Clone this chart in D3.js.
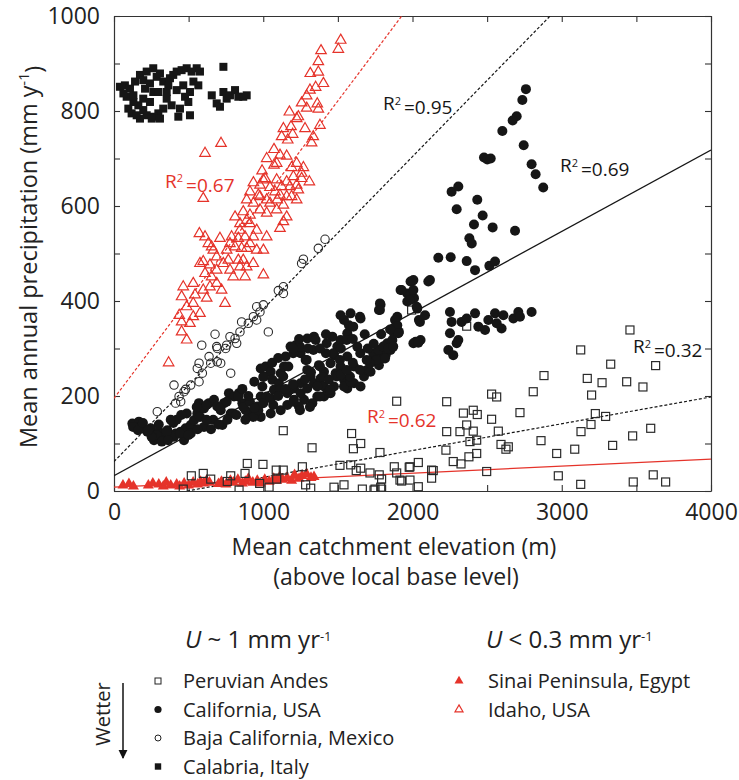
<!DOCTYPE html>
<html><head><meta charset="utf-8">
<script src="https://cdn.jsdelivr.net/npm/d3@7"></script>
<style>body{margin:0;background:#fff} text{font-family:"Open Sans",sans-serif;fill:#222}</style>
</head><body><svg id="c" width="739" height="780"></svg>
<script>
const xTicks=[0,1000,2000,3000,4000];
const yTicks=[0,200,400,600,800,1000];

const peru=[[3457,339],[3127,297],[3328,267],[3629,264],[2881,243],[3171,237],[3270,228],[3435,230],[3544,219],[3200,202],[2809,209],[2530,204],[2564,198],[2229,188],[2720,165],[2341,164],[2407,170],[2434,161],[3225,163],[3294,157],[2363,139],[2530,151],[2229,125],[2318,125],[2407,126],[2575,126],[3196,140],[3129,125],[3596,132],[3475,116],[2385,104],[2430,107],[2593,98],[2642,93],[2626,88],[2861,106],[3087,88],[3341,96],[2224,86],[2966,79],[2430,79],[2378,72],[2273,62],[2325,57],[2039,60],[1983,51],[2139,43],[2497,41],[2128,27],[1983,23],[1927,21],[2039,9],[2977,32],[3127,14],[3479,19],[3613,34],[3696,19],
[1994,381],[2363,347],[1894,189],[1782,81],[1878,51],[1894,38],[1978,50],[1916,23],[1749,4],[1793,4],[1793,25],[1715,38],[1777,34],[2128,44],
[1134,127],[1592,121],[1653,100],[1604,89],[1327,91],[893,58],[998,56],[598,37],[782,32],[878,37],[1087,44],[1134,44],[1262,51],[1514,54],[1586,55],[1623,43],[1653,48],
[648,25],[759,20],[838,2],[976,16],[1039,8],[1090,25],[1284,13],[1318,6],[1474,8],[1541,13],[1664,4],[1742,2],[1787,8],[518,32],[464,4]];

const california=[[123,142],[167,146],[179,135],[246,132],[257,121],[357,128],[368,114],[413,121],[447,125],[480,132],[514,139],[536,149],[558,163],[569,185],[603,174],[636,185],[670,192],[692,178],[715,170],[737,185],[770,206],[804,199],[837,206],[860,185],[882,170],[904,163],[938,163],[960,178],[983,199],[994,220],[1005,241],[983,258],[1016,262],[1050,251],[1061,234],[1072,213],[1105,227],[1117,248],[1139,262],[1150,283],[1183,304],[1217,307],[1250,290],[1284,276],[1295,255],[1317,241],[1340,227],[1384,237],[1407,220],[1429,206],[1362,199],[1329,185],[1273,192],[1239,178],[1161,206],[1206,216],[1250,227],[1451,269],[1474,286],[1496,304],[1518,318],[1563,332],[1574,349],[1541,360],[1518,370],[1585,374],[1652,363],[1340,325],[1295,321],[1351,318],[1463,325],[1373,265],[1407,251],[1485,248],[1541,234],[1563,216],[1608,227],[1652,220],[1675,241],[1697,255],[1731,272],[1764,283],[1786,297],[1809,304],[1831,311],[1865,318],[1876,332],[1853,297],[1820,286],[1775,265],[1719,251],[1630,304],[1563,283],[1518,262],[1608,262],[1898,349],[1909,335],[1920,423],[1965,416],[1987,441],[2010,406],[1965,399],[2032,384],[2043,360],[2054,318],[2021,314],[1786,392],[1775,381],[1898,367],[782,163],[726,139],[603,135],[514,121],[469,107],[402,114],[335,111],[268,107],[301,125],[223,125],[983,156],[1050,163],[1117,170],[1161,181],[1206,192],[1250,206],[1295,216],[1362,220],[1407,199],[1451,206],[1474,220],[1541,220],[1585,230],
[1782,395],[1782,381],[1883,360],[1894,346],[1905,332],[1927,423],[1983,402],[1994,441],[2006,423],[2028,388],[2050,356],[2084,370],[2106,441],[2117,444],[2006,311],[2039,312],[2251,377],[2262,356],[2329,356],[2363,363],[2419,374],[2441,346],[2486,339],[2508,360],[2553,374],[2564,353],[2597,342],[2609,370],[2676,363],[2709,377],[2720,367],[2798,377],[2251,332],[2240,297],[2273,286],[2307,318],[2296,311],[1737,290],[1771,297],[1804,304],[1838,300],[1871,304],[1760,276],[1816,279],[1715,269],
[2760,846],[2736,823],[2698,789],[2671,780],[2602,758],[2745,728],[2479,702],[2501,698],[2524,700],[2798,688],[2825,667],[2876,639],[2262,630],[2307,641],[2434,613],[2296,593],[2470,580],[2412,561],[2537,555],[2687,548],[2381,532],[2397,521],[2173,491],[2256,492],[2363,484],[2419,465],[2515,474],[2553,483],[2006,444],
[487,163],[554,177],[576,156],[621,181],[665,150],[710,174],[755,188],[799,163],[833,199],[866,177],[911,188],[933,156],[967,170],[1023,199],[1067,181],[1112,213],[1134,241],[1168,262],[1201,290],[1246,304],[1291,276],[1336,297],[1380,262],[1425,311],[1469,290],[1514,276],[1559,318],[1603,346],[1648,367],[1693,276],[1492,241],[1447,213],[1380,199],[1313,177],[1246,170],[1201,188],[1179,213],[1581,241],[1648,255],[353,125],[397,143],[442,121],[286,118],[320,104],[128,135],[161,128],[194,143],[252,114],[228,128],[362,107],
[420,150],[500,118],[560,130],[620,150],[650,130],[700,140],[760,150],[820,160],[880,150],[940,175],[1000,185],[1050,195],[1100,200],[1150,215],[1200,225],[1280,235],[1320,250],[1400,240],[1440,235],[1520,245],[1560,255],[1600,270],[1650,290],[1700,300],[1740,310],[1790,330],[1850,340],[1000,240],[1060,270],[1100,280],[1200,300],[1240,320],[1300,300],[1420,290],[1520,300],[1600,320],[1680,330],[1420,330],[1380,300],[900,200],[860,215],[940,230],[300,140],[380,150],[450,160]];

const baja=[[1414,530],[1369,511],[1269,488],[1257,479],[1135,430],[1101,422],[1135,416],[1001,392],[956,388],[978,377],[934,367],[956,360],[900,353],[855,356],[844,335],[811,321],[822,311],[777,325],[1034,335],[677,330],[755,307],[688,304],[588,307],[748,300],[692,300],[637,283],[692,272],[715,269],[648,269],[570,269],[558,258],[592,248],[570,230],[514,223],[480,214],[436,199],[402,223],[447,188],[413,185],[290,167],[782,248],[469,209]];

const calabria=[[40,851],[73,854],[107,847],[141,862],[174,876],[196,865],[219,883],[263,890],[286,872],[308,879],[330,862],[364,854],[375,869],[397,876],[420,883],[453,886],[487,890],[520,883],[554,890],[576,883],[532,862],[565,854],[509,840],[476,830],[498,819],[442,805],[386,812],[353,826],[330,805],[297,795],[263,788],[219,791],[196,802],[163,812],[130,819],[96,805],[85,830],[63,837],[130,833],[196,826],[241,819],[263,840],[208,847],[241,858],[297,840],[353,840],[420,844],[464,854],[509,791],[431,788],[308,784],[253,784],[174,784],[733,893],[655,833],[688,816],[733,840],[755,826],[777,833],[811,844],[833,830],[866,830],[889,833],[710,809],[118,795],[152,791]];

const sinai=[[60,12],[100,15],[130,10],[230,12],[260,16],[300,14],[330,10],[350,18],[380,12],[420,14],[440,10],[470,16],[500,12],[530,18],[560,14],[580,20],[600,16],[620,22],[640,18],[700,15],[720,20],[750,14],[780,22],[800,18],[830,24],[860,16],[880,20],[900,26],[930,18],[960,22],[980,16],[1010,24],[1040,20],[1070,26],[1090,22],[1110,30],[1130,24],[1160,28],[1190,22],[1210,34],[1240,26],[1260,32],[1290,36],[1320,28],[1340,30]];

const idaho=[[1519,949],[1503,930],[1387,927],[1369,904],[1315,879],[1369,882],[1403,858],[1351,850],[1291,832],[1257,817],[1362,815],[1369,804],[1380,770],[1335,746],[1324,733],
[1175,798],[1224,784],[1186,767],[1135,763],[1197,751],[1280,763],[1164,739],[1112,707],[1072,719],[1157,705],[1023,700],[1072,686],[992,674],[934,649],[978,644],[1012,658],[1190,681],[1269,681],[1309,651],[1257,658],[1224,644],[1202,662],[1157,651],[1123,641],[1112,623],[1079,630],[1045,639],[1094,613],[1157,620],[1190,620],[1224,613],[1135,602],[1023,613],[1023,585],[978,592],[934,606],[889,613],[911,630],[967,623],[866,588],[889,570],[844,563],[911,563],[956,549],[934,535],[878,535],[833,532],[1023,535],[1001,507],[1135,567],[1112,553],[1157,577],[788,535],[811,514],[889,511],[866,486],[833,486],[766,486],[732,479],[688,493],[654,514],[710,532],[572,542],[610,535],[632,521],[665,507],[598,483],[643,476],[688,465],[610,458],[654,451],[688,437],[643,430],[721,423],[744,395],[621,406],[543,413],[464,430],[453,409],[531,395],[487,388],[576,374],[531,367],[437,370],[453,356],[453,335],[487,318],[598,616],[610,711],[717,732],[1001,455],[844,472],[889,472],[799,451],[878,451],[366,270],
[978,620],[1090,655],[1045,606],[1090,592],[1179,641],[1235,634],[911,581],[811,577],[844,549],[777,521],[911,521],[956,507],[855,511],[755,507],[576,479],[531,437],[598,423],[509,353],[777,465],[933,479],[1291,806],[1313,844],[1235,788],[1123,746],[1090,690],[1224,690],[1257,669],[1000,655]];

const fits=[
 {x0:0,y0:195,x1:1928,y1:1000,color:"red",dash:"3,2"},
 {x0:0,y0:62,x1:2922,y1:1000,color:"black",dash:"3,2"},
 {x0:0,y0:32,x1:4000,y1:718,color:"black",dash:null},
 {x0:489,y0:0,x1:4000,y1:198,color:"black",dash:"3,2"},
 {x0:0,y0:8,x1:4000,y1:67,color:"red",dash:null}];
const r2Labels=[
 {val:"0.67",x:342,y:638,color:"red"},
 {val:"0.95",x:1802,y:802,color:"black"},
 {val:"0.69",x:2988,y:671,color:"black"},
 {val:"0.32",x:3477,y:290,color:"black"},
 {val:"0.62",x:1695,y:143,color:"red"}];

const RED="#e5332a", BLK="#161616";
const col=c=>c==="red"?RED:BLK;

const svg=d3.select("#c");
const x=d3.scaleLinear().domain([0,4000]).range([114,711]);
const y=d3.scaleLinear().domain([0,1000]).range([491,16]);

const minorX=d3.range(0,4001,500), minorY=d3.range(0,1001,100);
function styleAxis(g){g.selectAll("path.domain").attr("stroke","#333").attr("stroke-width",1.2);
 g.selectAll(".tick line").attr("stroke","#333").attr("stroke-width",1.1);
 g.selectAll("text").style("font-family","'Open Sans',sans-serif").style("font-size","23px").attr("fill","#222");}
svg.append("g").attr("transform","translate(0,491)")
 .call(d3.axisBottom(x).tickValues(minorX).tickSize(-6).tickSizeOuter(0).tickPadding(13).tickFormat(d=>xTicks.includes(d)?d:""))
 .call(styleAxis);
svg.append("g").attr("transform","translate(0,16)")
 .call(d3.axisTop(x).tickValues(minorX).tickSize(-6).tickSizeOuter(0).tickFormat(""))
 .call(styleAxis);
svg.append("g").attr("transform","translate(114,0)")
 .call(d3.axisLeft(y).tickValues(minorY).tickSize(-6).tickSizeOuter(0).tickPadding(14).tickFormat(d=>yTicks.includes(d)?d:""))
 .call(styleAxis);
svg.append("g").attr("transform","translate(711,0)")
 .call(d3.axisRight(y).tickValues(minorY).tickSize(-6).tickSizeOuter(0).tickFormat(""))
 .call(styleAxis);

svg.append("clipPath").attr("id","pc").append("rect").attr("x",114).attr("y",16).attr("width",597).attr("height",475);
const plot=svg.append("g").attr("clip-path","url(#pc)");

plot.selectAll("line.fit").data(fits).join("line").attr("class","fit")
 .attr("x1",d=>x(d.x0)).attr("y1",d=>y(d.y0)).attr("x2",d=>x(d.x1)).attr("y2",d=>y(d.y1))
 .attr("stroke",d=>col(d.color)).attr("stroke-width",d=>d.dash?1.2:1.3)
 .attr("stroke-dasharray",d=>d.dash);

const tri=(s)=>d3.symbol(d3.symbolTriangle,Math.sqrt(3)/4*s*s)();
plot.append("g").selectAll("path").data(sinai).join("path").attr("d",tri(11))
 .attr("transform",d=>`translate(${x(d[0])},${y(d[1])})`).attr("fill",RED);
plot.append("g").selectAll("rect").data(peru).join("rect")
 .attr("x",d=>x(d[0])-4).attr("y",d=>y(d[1])-4).attr("width",8).attr("height",8)
 .attr("fill","none").attr("stroke","#2a2a2a").attr("stroke-width",1.2);
plot.append("g").selectAll("circle").data(baja).join("circle")
 .attr("cx",d=>x(d[0])).attr("cy",d=>y(d[1])).attr("r",4.2)
 .attr("fill","none").attr("stroke","#2a2a2a").attr("stroke-width",1.1);
plot.append("g").selectAll("circle").data(california).join("circle")
 .attr("cx",d=>x(d[0])).attr("cy",d=>y(d[1])).attr("r",5).attr("fill",BLK);
plot.append("g").selectAll("rect").data(calabria).join("rect")
 .attr("x",d=>x(d[0])-4).attr("y",d=>y(d[1])-4).attr("width",8).attr("height",8).attr("fill",BLK);
plot.append("g").selectAll("path").data(idaho).join("path").attr("d",tri(10.5))
 .attr("transform",d=>`translate(${x(d[0])},${y(d[1])})`)
 .attr("fill","none").attr("stroke",RED).attr("stroke-width",1.2);

r2Labels.forEach(l=>{
 const t=svg.append("text").attr("x",x(l.x)).attr("y",y(l.y)).style("font-size","19px");
 t.append("tspan").text("R").attr("fill",col(l.color));
 t.append("tspan").text("2").attr("dy","-0.5em").style("font-size","11px").attr("fill",col(l.color));
 t.append("tspan").text("=" + l.val).attr("dy","0.5em").attr("dx","3").attr("fill",col(l.color));
});

svg.append("text").attr("x",394).attr("y",555).attr("text-anchor","middle").style("font-size","23px").text("Mean catchment elevation (m)");
svg.append("text").attr("x",396).attr("y",585).attr("text-anchor","middle").style("font-size","23px").text("(above local base level)");
const yt=svg.append("text").attr("transform","translate(37,257) rotate(-90)").attr("text-anchor","middle").style("font-size","23.5px");
yt.append("tspan").text("Mean annual precipitation (mm y");
yt.append("tspan").text("-1").attr("dy","-0.55em").style("font-size","14px");
yt.append("tspan").text(")").attr("dy","0.55em");

const legLeft=[{name:"Peruvian Andes",sym:"osq"},{name:"California, USA",sym:"fci"},{name:"Baja California, Mexico",sym:"oci"},{name:"Calabria, Italy",sym:"fsq"}];
const legRight=[{name:"Sinai Peninsula, Egypt",sym:"ftr"},{name:"Idaho, USA",sym:"otr"}];
function heading(xp,pre){
 const t=svg.append("text").attr("x",xp).attr("y",648).style("font-size","24px");
 t.append("tspan").text("U").style("font-style","italic");
 t.append("tspan").text(pre+" mm yr");
 t.append("tspan").text("-1").attr("dy","-0.55em").style("font-size","13px");
}
heading(185," ~ 1");
heading(486," < 0.3");
function legItems(items,sx,tx){
 items.forEach((it,i)=>{
  const cy=681+i*28.5;
  const g=svg.append("g").attr("transform",`translate(${sx},${cy})`);
  if(it.sym==="osq") g.append("rect").attr("x",-3).attr("y",-3).attr("width",6).attr("height",6).attr("fill","none").attr("stroke","#222").attr("stroke-width",1);
  if(it.sym==="fsq") g.append("rect").attr("x",-3.2).attr("y",-3.2).attr("width",6.4).attr("height",6.4).attr("fill",BLK);
  if(it.sym==="fci") g.append("circle").attr("r",3.6).attr("fill",BLK);
  if(it.sym==="oci") g.append("circle").attr("r",3).attr("fill","none").attr("stroke","#222").attr("stroke-width",1);
  if(it.sym==="ftr") g.append("path").attr("d",tri(9)).attr("fill",RED);
  if(it.sym==="otr") g.append("path").attr("d",tri(8)).attr("fill","none").attr("stroke",RED).attr("stroke-width",1.2);
  svg.append("text").attr("x",tx).attr("y",cy+7).style("font-size","20px").text(it.name);
 });
}
legItems(legLeft,158,183);
legItems(legRight,459,488);

svg.append("defs").append("marker").attr("id","ah").attr("viewBox","0 0 10 10").attr("refX",9).attr("refY",5)
 .attr("markerWidth",6).attr("markerHeight",8).attr("orient","auto").append("path").attr("d","M0,0 L10,5 L0,10 Z").attr("fill","#111");
svg.append("line").attr("x1",123).attr("y1",683).attr("x2",123).attr("y2",758).attr("stroke","#111").attr("stroke-width",1.5).attr("marker-end","url(#ah)");
svg.append("text").attr("transform","translate(110,714) rotate(-90)").attr("text-anchor","middle").style("font-size","20px").text("Wetter");
</script></body></html>
